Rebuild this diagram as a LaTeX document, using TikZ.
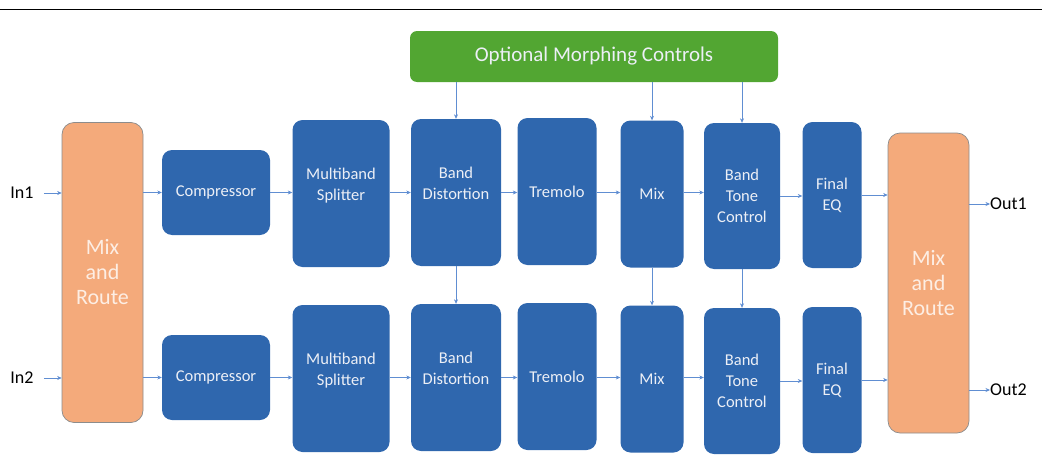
\documentclass[tikz,border=0pt]{standalone}
\usepackage{fontspec}
\setmainfont{Carlito}
\usetikzlibrary{arrows.meta}

\definecolor{blockblue}{RGB}{47,103,174}
\definecolor{routeorange}{RGB}{244,170,123}
\definecolor{morphgreen}{RGB}{82,166,50}
\definecolor{wireblue}{RGB}{96,142,210}
\definecolor{paletext}{RGB}{236,239,246}

\tikzset{
  blk/.style={rounded corners=10pt, fill=blockblue, text=paletext, align=center,
    font=\fontsize{16.5}{21}\selectfont, inner sep=0pt},
  route/.style={rounded corners=12pt, fill=routeorange, draw=gray!90, line width=0.7pt,
    text=routeorange!20!white, align=center, font=\fontsize{22}{25}\selectfont,
    minimum width=81pt, minimum height=300pt},
  wire/.style={wireblue, line width=0.6pt, -{Stealth[length=4.5pt,width=4pt]}},
  port/.style={font=\fontsize{18}{20}\selectfont, inner sep=0pt}
}

\begin{document}
\begin{tikzpicture}[x=1pt,y=-1pt]
\useasboundingbox (0,0) rectangle (1042,471);

% Rule on top
\draw[line width=1.3pt] (0,9.5) -- (1042,9.5);

% Morphing controls
\node[rounded corners=7pt, fill=morphgreen, text=paletext, minimum width=368pt, minimum height=51pt,
  font=\fontsize{21}{24}\selectfont] (morph) at (594,56.5) {Optional Morphing Controls};

% Routing blocks
\node[route] (routein) at (102.5,272.5) {Mix\\and\\Route};
\node[route] (routeout) at (928.5,283) {Mix\\and\\Route};

% Two processing rows
\foreach \r/\dy in {1/0,2/185} {
  \node[blk, minimum width=108pt, minimum height=85pt] (comp\r) at (216,192.5+\dy) {Compressor};
  \node[blk, minimum width=97pt, minimum height=147pt, text depth=18pt] (split\r) at (341,193.5+\dy) {Multiband\\Splitter};
  \node[blk, minimum width=90pt, minimum height=147pt, text depth=18pt] (dist\r) at (456,192.5+\dy) {Band\\Distortion};
  \node[blk, minimum width=79pt, minimum height=147pt] (trem\r) at (557,191.5+\dy) {Tremolo};
  \node[blk, minimum width=63pt, minimum height=147pt] (mix\r) at (652,194+\dy) {Mix};
  \node[blk, minimum width=76pt, minimum height=146pt] (tone\r) at (742,196+\dy) {Band\\Tone\\Control};
  \node[blk, minimum width=59pt, minimum height=146pt] (feq\r) at (832,195+\dy) {Final\\EQ};
}

% Ports
\node[port] (in1) at (22,193) {In1};
\node[port] (in2) at (22,378) {In2};
\node[port, anchor=west] (out1) at (990,204) {Out1};
\node[port, anchor=west] (out2) at (990,390) {Out2};

% Signal flow
\foreach \r in {1,2} {
  \draw[wire] (in\r.east) ++(10pt,0) -- (routein.west |- in\r);
  \draw[wire] (routein.east |- comp\r) -- (comp\r.west);
  \draw[wire] (comp\r.east) -- (split\r.west |- comp\r.east);
  \draw[wire] (split\r.east |- comp\r.east) -- (dist\r.west |- comp\r.east);
  \draw[wire] (dist\r.east |- comp\r.east) -- (trem\r.west |- comp\r.east);
  \draw[wire] (trem\r.east |- comp\r.east) -- (mix\r.west |- comp\r.east);
  \draw[wire] (mix\r.east |- comp\r.east) -- (tone\r.west |- comp\r.east);
  \draw[wire] (tone\r.east) -- (feq\r.west |- tone\r.east);
  \draw[wire] (feq\r.east) -- (routeout.west |- feq\r.east);
  \draw[wire] (routeout.east |- out\r) -- (out\r.west);
}

% Control lines
\foreach \b in {dist,mix,tone} {
  \draw[wire] (\b1.north |- morph.south) -- (\b1.north);
  \draw[wire] (\b1.south) -- (\b2.north);
}
\end{tikzpicture}
\end{document}
